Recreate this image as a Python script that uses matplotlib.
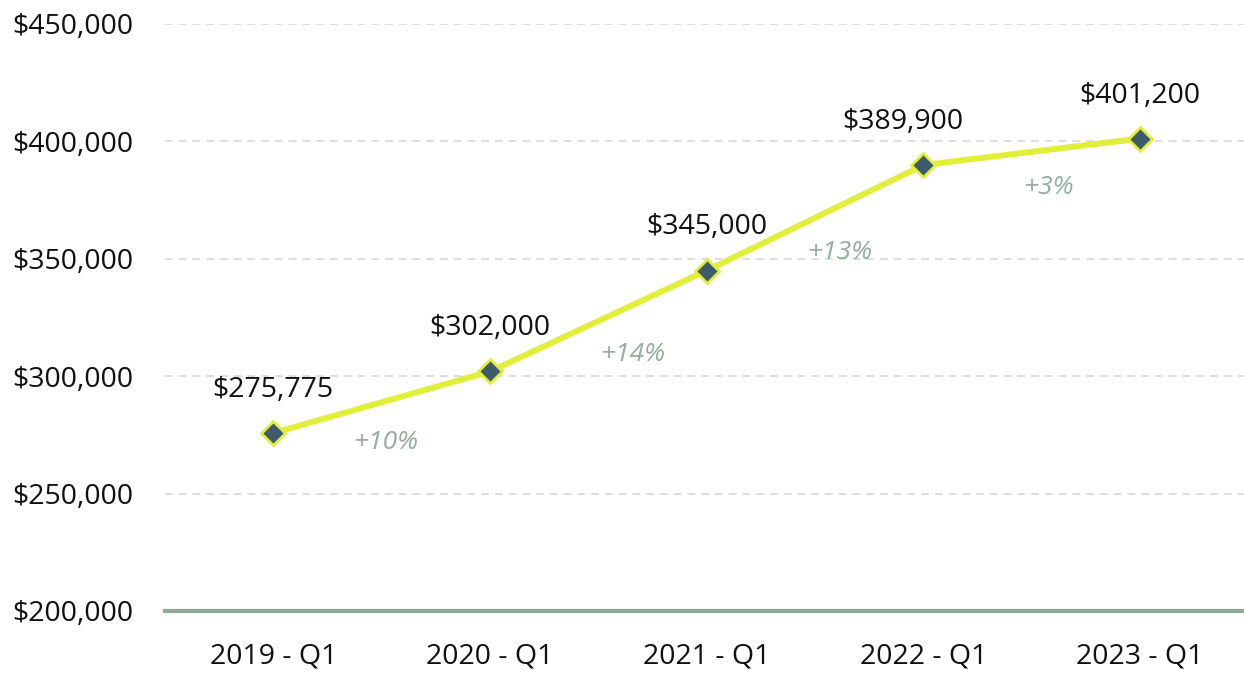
import matplotlib.pyplot as plt
from matplotlib.ticker import FuncFormatter

plt.rcParams['font.family'] = ['Open Sans', 'DejaVu Sans']

quarters = ['2019 - Q1', '2020 - Q1', '2021 - Q1', '2022 - Q1', '2023 - Q1']
prices = [275775, 302000, 345000, 389900, 401200]
changes = ['+10%', '+14%', '+13%', '+3%']
y_ticks = [200000, 250000, 300000, 350000, 400000, 450000]

line_color = '#e1ee3a'
marker_face = '#3e5b6c'
change_color = '#93ad9e'
base_color = '#8fa89a'

fig = plt.figure(figsize=(12.44, 6.74), dpi=100, facecolor='white')
ax = fig.add_axes([0.1326, 0.0935, 0.8674, 0.8709])

x = list(range(len(quarters)))

# dashed grid, solid baseline at the bottom
for v in y_ticks[1:]:
    ax.axhline(v, color='#d3d3d3', lw=1.1, ls=(0, (5, 4)), zorder=0)
ax.axhline(y_ticks[0], color=base_color, lw=3, zorder=1, clip_on=False)

ax.plot(x, prices, color=line_color, lw=4.3, marker='D', markersize=12.5,
        markerfacecolor=marker_face, markeredgecolor=line_color,
        markeredgewidth=2, zorder=3)

# the 2022 label is nudged left in the original
label_dx = [0, 0, 0, -15, 0]
for xi, p, dx in zip(x, prices, label_dx):
    ax.annotate(f'${p:,.0f}', (xi, p), xytext=(dx, 31), textcoords='offset points',
                ha='center', va='center', fontsize=20.5, color='#111111')

# change labels sit below-right of each segment midpoint
change_off = [(3, -29), (25, -24), (18, -25), (12, -26)]
for i, lab in enumerate(changes):
    mx = (x[i] + x[i + 1]) / 2
    my = (prices[i] + prices[i + 1]) / 2
    ax.annotate(lab, (mx, my), xytext=change_off[i], textcoords='offset points',
                ha='center', va='center', fontsize=19, style='italic',
                color=change_color)

ax.set_xlim(-0.5, 4.48)
ax.set_ylim(200000, 450000)
ax.set_xticks(x)
ax.set_xticklabels(quarters)
ax.set_yticks(y_ticks)
ax.yaxis.set_major_formatter(FuncFormatter(lambda v, _: f'${v:,.0f}'))
ax.tick_params(axis='both', length=0, labelsize=20.5, colors='#111111')
ax.tick_params(axis='x', pad=23)
ax.tick_params(axis='y', pad=23)
for s in ax.spines.values():
    s.set_visible(False)

fig.savefig('out.png', dpi=100, facecolor='white')
